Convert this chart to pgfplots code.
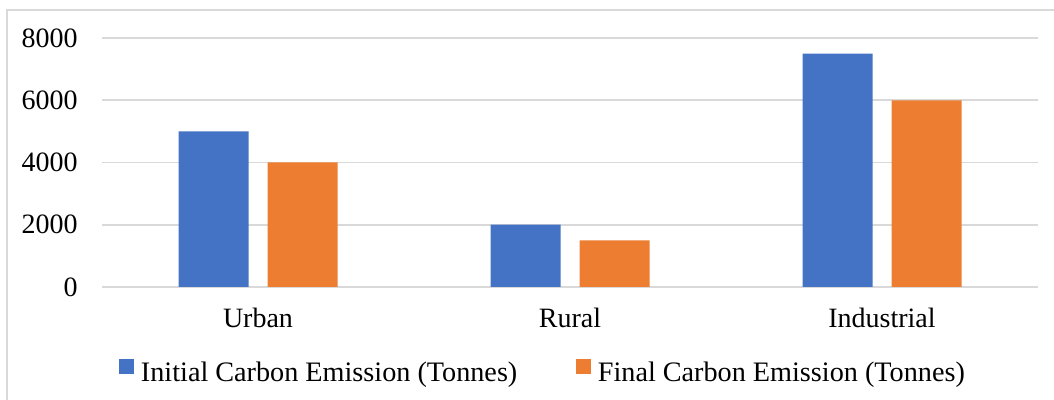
\documentclass[border=0pt]{standalone}
\usepackage{fontspec}
\setmainfont{Liberation Serif}
\usepackage{pgfplots}
\pgfplotsset{compat=1.18}
\definecolor{initblue}{HTML}{4472C4}
\definecolor{finalorange}{HTML}{ED7D31}
\definecolor{gridgray}{HTML}{D9D9D9}
\newcommand{\tickfont}{\fontsize{14bp}{16.8bp}\selectfont}
\newcommand{\legfont}{\fontsize{14.1bp}{16.9bp}\selectfont}

\begin{document}
\begin{tikzpicture}
\useasboundingbox (0,0) rectangle (527bp,200bp);
% chart frame
\draw[gridgray, line width=0.8bp] (3.5bp,-10bp) rectangle (540bp,195bp);
\begin{axis}[
  at={(51bp,56.5bp)}, anchor=south west,
  scale only axis, width=468bp, height=124.5bp,
  xmin=-0.5, xmax=2.5, ymin=0, ymax=8000,
  enlargelimits=false,
  ybar, bar width=35bp,
  axis line style={draw=none},
  major tick length=0pt,
  xtick={0,1,2}, xticklabels={Urban,Rural,Industrial},
  ytick={0,2000,4000,6000,8000},
  scaled y ticks=false,
  /pgf/number format/assume math mode=true,
  /pgf/number format/set thousands separator={},
  ymajorgrids, grid style={gridgray, line width=0.85bp},
  tick label style={font=\tickfont, inner sep=0pt},
  yticklabel style={anchor=east, xshift=-12bp},
  xticklabel style={anchor=base, yshift=-20.5bp},
  legend columns=2,
  legend image code/.code={\fill[#1,/tikz/.cd] (0bp,-0.5bp) rectangle (7.5bp,7bp);},
  legend style={
    font=\legfont, draw=none, fill=none, inner sep=0pt,
    at={(0.01816,-0.3414)}, anchor=west,
    nodes={inner sep=0pt},
    /tikz/every odd column/.append style={column sep=3.3bp},
    /tikz/every even column/.append style={column sep=29.5bp},
  },
  legend cell align=left,
]
\addplot[fill=initblue, draw=none, bar shift=-22.25bp]
  coordinates {(0,5000) (1,2000) (2,7500)};
\addlegendentry{Initial Carbon Emission (Tonnes)}
\addplot[fill=finalorange, draw=none, bar shift=22.25bp]
  coordinates {(0,4000) (1,1500) (2,6000)};
\addlegendentry{Final Carbon Emission (Tonnes)}
\end{axis}
\end{tikzpicture}
\end{document}
